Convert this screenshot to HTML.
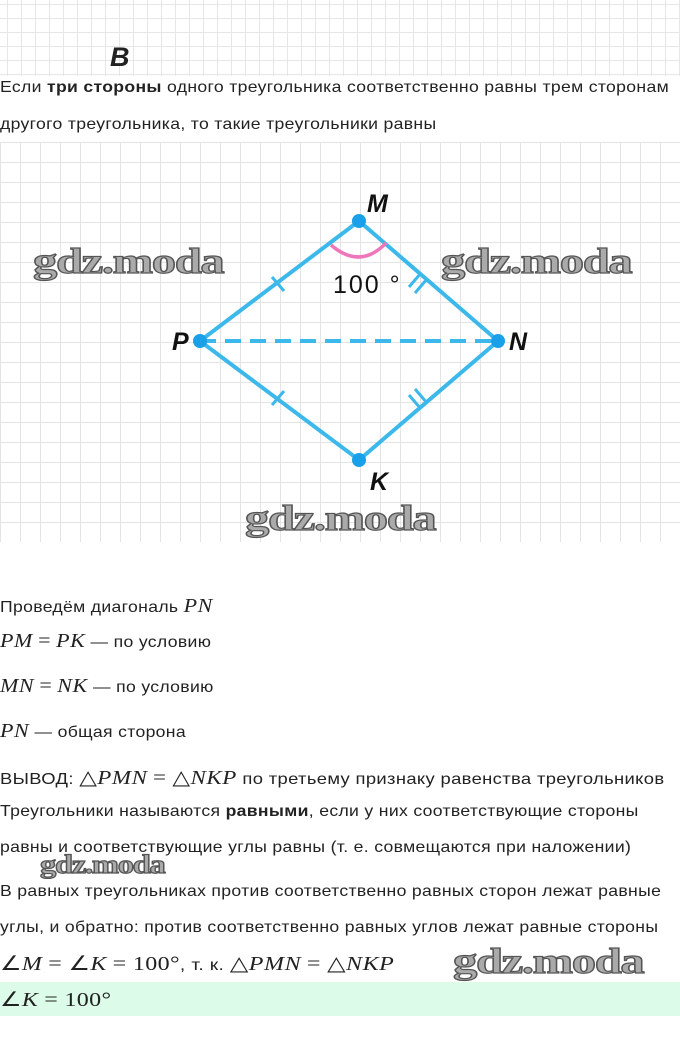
<!DOCTYPE html>
<html><head><meta charset="utf-8"><style>
body{margin:0;width:680px;height:1051px;position:relative;background:#fff;font-family:"Liberation Sans",sans-serif;color:#222;overflow:hidden}
.grid1{position:absolute;left:0;top:0;width:680px;height:76px;background-image:linear-gradient(#e6e6e6 1px,transparent 1px),linear-gradient(90deg,#e6e6e6 1px,transparent 1px);background-size:14px 14px;background-position:7px 4px}
.grid2{position:absolute;left:0;top:142px;width:680px;height:400px;background-image:linear-gradient(#e4e4e4 1px,transparent 1px),linear-gradient(90deg,#e4e4e4 1px,transparent 1px);background-size:20px 20px;background-position:0 0}
.t{position:absolute;left:0;font-size:16px;letter-spacing:0.3px;white-space:nowrap;transform-origin:0 0;transform:scaleX(1.1)}
.m{font-family:"Liberation Serif",serif;font-style:italic;font-size:20px;letter-spacing:0.5px}
.r{font-family:"Liberation Serif",serif;font-size:20px}
.wm{position:absolute;font-family:"Liberation Serif",serif;font-weight:bold;font-size:36px;color:#aaa;-webkit-text-stroke:1.2px #555;letter-spacing:-1px;transform-origin:0 0;transform:scaleX(1.35)}
</style></head><body>
<div class="grid1"></div>
<div style="position:absolute;left:110px;top:42px;font-size:27px;font-style:italic;font-weight:bold">B</div>
<div class="t" style="top:79px">Если <b>три стороны</b> одного треугольника соответственно равны трем сторонам</div>
<div class="t" style="top:116px">другого треугольника, то такие треугольники равны</div>
<div class="grid2"></div>
<svg style="position:absolute;left:0;top:0" width="680" height="560">
<g stroke="#3db8ea" stroke-width="4" fill="none">
<path d="M200 341 L359 221 L498 341 L359 460 Z"/>
<path d="M200 341 H498" stroke-dasharray="16 9"/>
<path d="M272 277 l12 14 M421 273 l-12 14 M427 279 l-12 14 M272 405 l12 -14 M421 409 l-12 -14 M427 403 l-12 -14" stroke-width="3"/>
</g>
<path d="M331 245 Q360 270 386 243" stroke="#ee77bb" stroke-width="3.5" fill="none"/>
<g fill="#1aa0e8"><circle cx="359" cy="221" r="7"/><circle cx="200" cy="341" r="7"/><circle cx="498" cy="341" r="7"/><circle cx="359" cy="460" r="7"/></g>
<g font-family="Liberation Sans" font-style="italic" font-weight="bold" font-size="25" fill="#111">
<text x="367" y="212">M</text><text x="172" y="350">P</text><text x="509" y="350">N</text><text x="370" y="490">K</text></g>
<text x="333" y="293" font-family="Liberation Sans" font-size="25" fill="#111" letter-spacing="2">100 °</text>
</svg>
<div class="wm" style="left:33px;top:240px">gdz.moda</div>
<div class="wm" style="left:441px;top:240px">gdz.moda</div>
<div class="wm" style="left:245px;top:497px">gdz.moda</div>
<div class="t" style="top:595px">Проведём диагональ <span class="m">PN</span></div>
<div class="t" style="top:630px"><span class="m">PM</span> <span class="r">=</span> <span class="m">PK</span> — по условию</div>
<div class="t" style="top:675px"><span class="m">MN</span> <span class="r">=</span> <span class="m">NK</span> — по условию</div>
<div class="t" style="top:720px"><span class="m">PN</span> — общая сторона</div>
<div class="t" style="top:765px;transform:scaleX(1.15)">ВЫВОД: <span class="r">△</span><span class="m">PMN</span> <span class="r">= △</span><span class="m">NKP</span> по третьему признаку равенства треугольников</div>
<div class="t" style="top:803px">Треугольники называются <b>равными</b>, если у них соответствующие стороны</div>
<div class="t" style="top:839px">равны и соответствующие углы равны (т. е. совмещаются при наложении)</div>
<div class="wm" style="left:40px;top:850px;font-size:26px;transform:scaleX(1.25)">gdz.moda</div>
<div class="t" style="top:883px">В равных треугольниках против соответственно равных сторон лежат равные</div>
<div class="t" style="top:919px">углы, и обратно: против соответственно равных углов лежат равные стороны</div>
<div class="t" style="top:951px;transform:scaleX(1.2)"><span class="r">∠</span><span class="m">M</span> <span class="r">= ∠</span><span class="m">K</span> <span class="r">= 100°</span>, т. к. <span class="r">△</span><span class="m">PMN</span> <span class="r">= △</span><span class="m">NKP</span></div>
<div class="wm" style="left:453px;top:940px">gdz.moda</div>
<div style="position:absolute;left:0;top:982px;width:680px;height:34px;background:#dcfce9"></div>
<div class="t" style="top:987px;transform:scaleX(1.2)"><span class="r">∠</span><span class="m">K</span> <span class="r">= 100°</span></div>
</body></html>
